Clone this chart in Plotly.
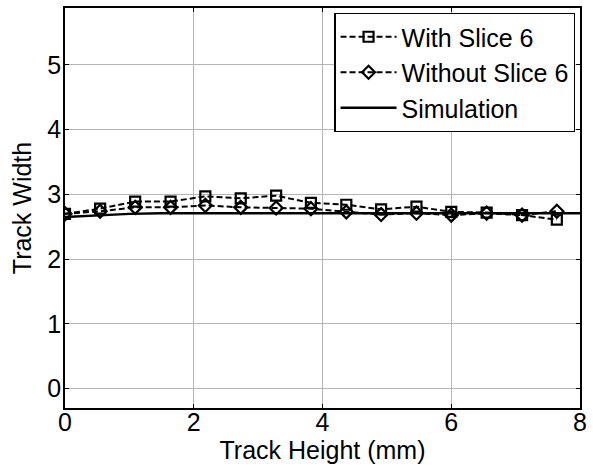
import plotly.graph_objects as go

# Track height positions (mm)
track_height = [0.0, 0.546, 1.09, 1.64, 2.18, 2.73, 3.28, 3.82,
                4.37, 4.91, 5.46, 6.00, 6.55, 7.10, 7.64]

# Measured track widths
with_slice6 = [2.70, 2.78, 2.89, 2.89, 2.97, 2.94, 2.98, 2.87,
               2.84, 2.77, 2.81, 2.73, 2.72, 2.68, 2.61]
without_slice6 = [2.70, 2.74, 2.80, 2.80, 2.83, 2.80, 2.79, 2.78,
                  2.73, 2.69, 2.71, 2.68, 2.71, 2.68, 2.74]

# Simulated track width
sim_height = [0.0, 0.5, 1.0, 1.5, 2.0, 3.0, 4.0, 5.0, 6.0, 7.0, 8.0]
sim_width = [2.65, 2.68, 2.70, 2.71, 2.71, 2.71, 2.71, 2.71, 2.71, 2.71, 2.71]

x_ticks = [0, 2, 4, 6, 8]
y_ticks = [0, 1, 2, 3, 4, 5]

font = "Liberation Sans, Arial, sans-serif"

fig = go.Figure()
fig.add_trace(go.Scatter(
    x=track_height, y=with_slice6, name="With Slice 6",
    mode="lines+markers",
    line=dict(color="black", width=2, dash="6px,3px"),
    marker=dict(symbol="square-open", size=10, color="black",
                line=dict(width=2.2, color="black")),
))
fig.add_trace(go.Scatter(
    x=track_height, y=without_slice6, name="Without Slice 6",
    mode="lines+markers",
    line=dict(color="black", width=2, dash="6px,3px"),
    marker=dict(symbol="diamond-open", size=10, color="black",
                line=dict(width=2.2, color="black")),
))
fig.add_trace(go.Scatter(
    x=sim_height, y=sim_width, name="Simulation",
    mode="lines",
    line=dict(color="black", width=2.4),
))

axis_common = dict(
    showline=True, linecolor="black", linewidth=1.5, mirror="ticks",
    ticks="inside", ticklen=4, tickcolor="black", tickwidth=1,
    showgrid=True, gridcolor="#b5b5b5", gridwidth=1,
    zeroline=False,
    tickfont=dict(family=font, size=25, color="black"),
)

fig.update_layout(
    width=593, height=474,
    margin=dict(l=65, r=6, t=7, b=66),
    plot_bgcolor="white", paper_bgcolor="white",
    font=dict(family=font, color="black"),
    xaxis=dict(range=[0, 8], tickvals=x_ticks, ticklabelstandoff=-9,
               title=dict(text="Track Height (mm)", font=dict(family=font, size=25), standoff=2),
               **axis_common),
    yaxis=dict(range=[-0.3, 5.88], tickvals=y_ticks, ticklabelstandoff=-3,
               title=dict(text="Track Width", font=dict(family=font, size=25), standoff=9),
               **axis_common),
    legend=dict(x=0.523, y=0.988, xanchor="left", yanchor="top",
                bgcolor="white", bordercolor="black", borderwidth=1.2,
                font=dict(family=font, size=25, color="black"),
                itemwidth=56, tracegroupgap=0),
    showlegend=True,
)

fig.write_html("out.html")
